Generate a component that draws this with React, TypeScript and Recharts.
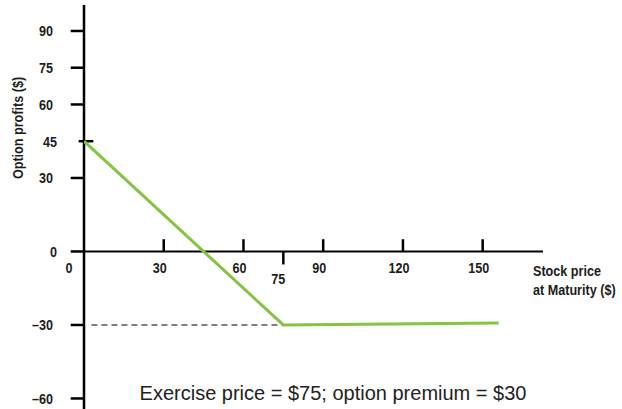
import React from "react";
import { LineChart, Line, XAxis, YAxis, ReferenceLine, ReferenceDot } from "recharts";

const priceAtMaturity = [0, 75, 156];
const optionProfit = [45, -30, -29.2];
const xTicksUp = [30, 60, 90, 120, 150];
const xTicksDown = [75];
const yTicks = [90, 75, 60, 30, 0, -30, -60];
const yTickCross = [45];
const premiumLevel = -30;
const exercisePrice = 75;

const data = priceAtMaturity.map((p, i) => ({ price: p, profit: optionProfit[i] }));

const FONT = "'Liberation Sans', Arial, sans-serif";
const TXT = "#1c1c1c";
const SQUEEZE = 0.84;

const makeLabel = (text: string, dx: number, dy: number, anchor: "end" | "middle") => (props: any) => (
  <text
    transform={`translate(${props.cx + dx},${props.cy + dy}) scale(${SQUEEZE},1)`}
    x={0}
    y={0}
    textAnchor={anchor}
    dominantBaseline="central"
    fontFamily={FONT}
    fontWeight="bold"
    fontSize={15}
    fill={TXT}
  >
    {text}
  </text>
);

export default function App() {
  return (
    <div style={{ position: "fixed", left: 0, top: 0, width: 622, height: 409, background: "#fff", overflow: "hidden" }}>
      <LineChart width={622} height={409} data={data} margin={{ top: 5, right: 79, bottom: 0, left: 84 }}>
        <XAxis type="number" dataKey="price" domain={[0, 172.7]} allowDataOverflow hide />
        <YAxis type="number" domain={[-64.3, 100.6]} allowDataOverflow hide />
        <ReferenceLine y={0} stroke="#000" strokeWidth={2} />
        <ReferenceLine x={0} stroke="#000" strokeWidth={2.5} />
        {xTicksUp.map((t) => (
          <ReferenceLine key={"xu" + t} segment={[{ x: t, y: 0 }, { x: t, y: 5 }]} stroke="#000" strokeWidth={2.5} ifOverflow="visible" />
        ))}
        {xTicksDown.map((t) => (
          <ReferenceLine key={"xd" + t} segment={[{ x: t, y: 0 }, { x: t, y: -5.3 }]} stroke="#000" strokeWidth={2.5} ifOverflow="visible" />
        ))}
        {yTicks.map((t) => (
          <ReferenceLine key={"y" + t} segment={[{ x: -5, y: t }, { x: 0, y: t }]} stroke="#000" strokeWidth={2.5} ifOverflow="visible" />
        ))}
        {yTickCross.map((t) => (
          <ReferenceLine key={"yc" + t} segment={[{ x: -2, y: t }, { x: 3.5, y: t }]} stroke="#000" strokeWidth={2.5} ifOverflow="visible" />
        ))}
        <ReferenceLine
          segment={[{ x: 2.8, y: premiumLevel }, { x: exercisePrice, y: premiumLevel }]}
          stroke="#555"
          strokeWidth={1.6}
          strokeDasharray="6 4"
          ifOverflow="visible"
        />
        <Line
          type="linear"
          dataKey="profit"
          stroke="#84c441"
          strokeWidth={3}
          dot={false}
          isAnimationActive={false}
        />
        {[...yTicks, ...yTickCross].map((t) => (
          <ReferenceDot
            key={"yl" + t}
            x={0}
            y={t}
            r={0}
            ifOverflow="visible"
            shape={makeLabel(t < 0 ? "\u2013" + Math.abs(t) : String(t), t === 45 || t === 0 ? -27 : -31, 0, "end")}
          />
        ))}
        {xTicksUp.map((t) => (
          <ReferenceDot key={"xl" + t} x={t} y={0} r={0} ifOverflow="visible" shape={makeLabel(String(t), -4, 16, "middle")} />
        ))}
        {xTicksDown.map((t) => (
          <ReferenceDot key={"xld" + t} x={t} y={0} r={0} ifOverflow="visible" shape={makeLabel(String(t), -5, 27, "middle")} />
        ))}
        <ReferenceDot x={0} y={0} r={0} ifOverflow="visible" shape={makeLabel("0", -15, 16, "middle")} />
      </LineChart>
      <div
        style={{
          position: "absolute",
          left: 17,
          top: 128,
          transform: `translate(-50%, -50%) rotate(-90deg) scale(${SQUEEZE}, 1)`,
          whiteSpace: "nowrap",
          fontFamily: FONT,
          fontWeight: "bold",
          fontSize: 15,
          color: TXT,
        }}
      >
        Option profits ($)
      </div>
      <div
        style={{
          position: "absolute",
          left: 533,
          top: 261,
          transform: `scale(${SQUEEZE}, 1)`,
          transformOrigin: "0 0",
          whiteSpace: "nowrap",
          fontFamily: FONT,
          fontWeight: "bold",
          fontSize: 15,
          lineHeight: "19px",
          color: TXT,
        }}
      >
        Stock price
        <br />
        at Maturity ($)
      </div>
      <div
        style={{
          position: "absolute",
          left: 333,
          top: 393,
          transform: "translate(-50%, -50%)",
          whiteSpace: "nowrap",
          fontFamily: FONT,
          fontSize: 20,
          color: "#222",
        }}
      >
        Exercise price = $75; option premium = $30
      </div>
    </div>
  );
}
